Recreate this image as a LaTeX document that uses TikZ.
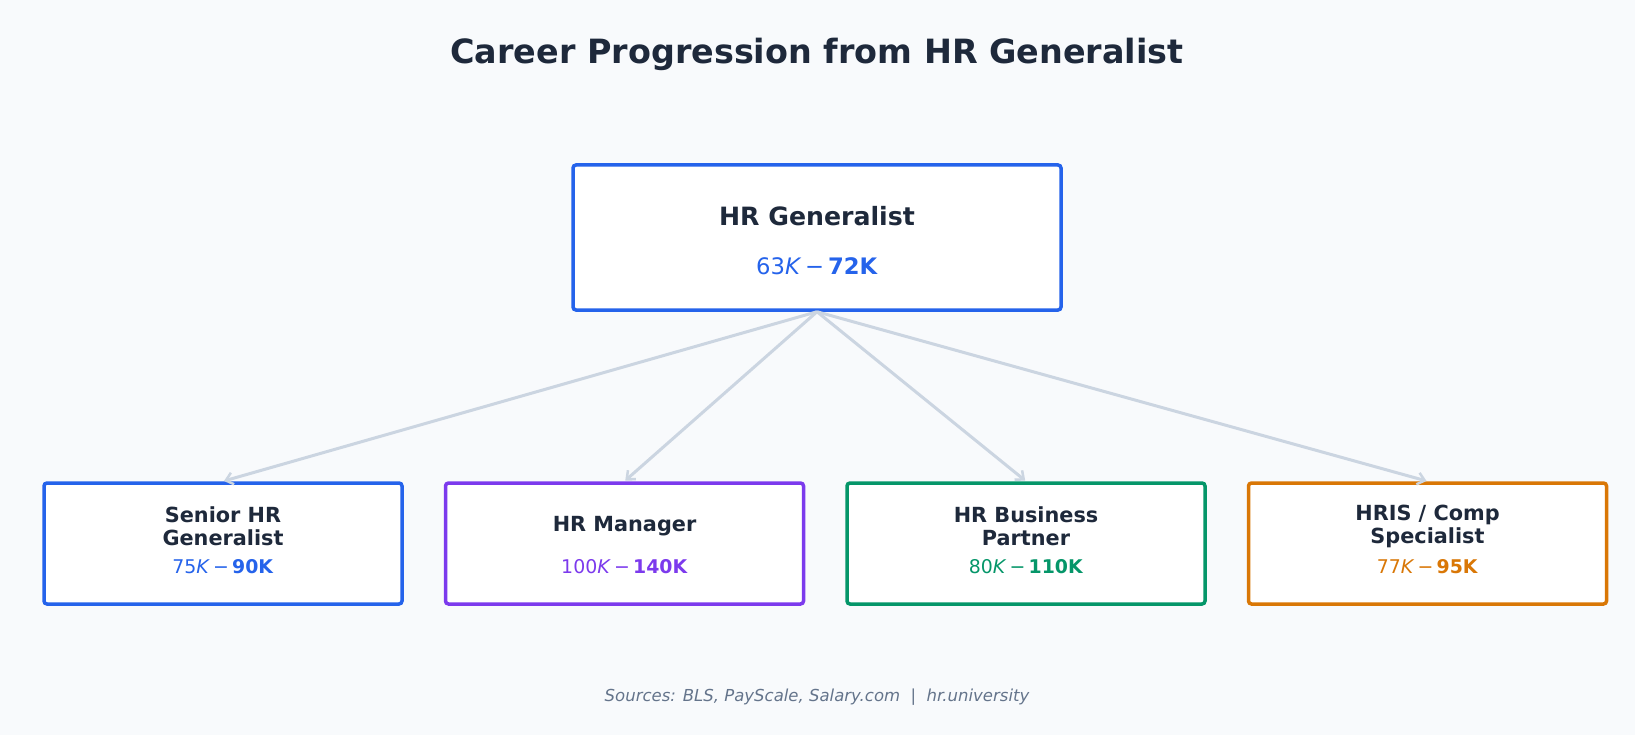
\documentclass[tikz,border=0pt]{standalone}
\usepackage{fontspec}
\setmainfont{DejaVu Sans}
\usetikzlibrary{arrows.meta}
\definecolor{bgc}{HTML}{F8FAFC}
\definecolor{ink}{HTML}{1E293B}
\definecolor{cblue}{HTML}{2563EB}
\definecolor{cpurple}{HTML}{7C3AED}
\definecolor{cgreen}{HTML}{059669}
\definecolor{corange}{HTML}{D97706}
\definecolor{cline}{HTML}{CBD5E1}
\definecolor{cfoot}{HTML}{64748B}
\newcommand\salary[2]{#1\textit{K}\,−\,\textbf{#2K}}
\tikzset{
  mainbox/.style={draw=cblue, fill=white, line width=3.5pt, rounded corners=3pt, minimum width=488pt, minimum height=145pt, inner sep=0pt},
  rolebox/.style={fill=white, line width=3.5pt, rounded corners=3pt, minimum width=358pt, minimum height=121pt, inner sep=0pt},
  rolename/.style={text=ink, font=\fontsize{20.8}{23}\selectfont\bfseries, align=center, inner sep=0pt},
  rolesal/.style={font=\fontsize{18.9}{22}\selectfont, inner sep=0pt},
  conn/.style={draw=cline, line width=3pt, -{Straight Barb[length=7pt,width=12pt,line width=2.5pt]}, shorten >=1pt}
}
\begin{document}
\begin{tikzpicture}[x=1pt,y=-1pt]
\fill[bgc] (0,0) rectangle (1635,735);
\useasboundingbox (0,0) rectangle (1635,735);
\node[text=ink, font=\fontsize{33.4}{38}\selectfont\bfseries, inner sep=0pt] (title) at (817,54) {Career Progression from HR Generalist};

\node[mainbox] (main) at (817,237.5) {};
\node[text=ink, font=\fontsize{25.2}{29}\selectfont\bfseries, inner sep=0pt] (mainname) at (817,216) {HR Generalist};
\node[text=cblue, font=\fontsize{22.7}{26}\selectfont, inner sep=0pt] (mainsal) at (817,266) {\salary{63}{72}};

\node[rolebox, draw=cblue] (b1) at (223,543.5) {};
\node[rolebox, draw=cpurple] (b2) at (624.5,543.5) {};
\node[rolebox, draw=cgreen] (b3) at (1026,543.5) {};
\node[rolebox, draw=corange] (b4) at (1427.5,543.5) {};

\node[rolename] (n1) at (223,526) {Senior HR\\Generalist};
\node[rolesal, text=cblue] (s1) at (223,567) {\salary{75}{90}};
\node[rolename] (n2) at (624.5,526) {HR Manager};
\node[rolesal, text=cpurple] (s2) at (624.5,567) {\salary{100}{140}};
\node[rolename] (n3) at (1026,526) {HR Business\\Partner};
\node[rolesal, text=cgreen] (s3) at (1026,567) {\salary{80}{110}};
\node[rolename] (n4) at (1427.5,526) {HRIS / Comp\\Specialist};
\node[rolesal, text=corange] (s4) at (1427.5,567) {\salary{77}{95}};

\draw[conn] (main.south) -- (b1.north);
\draw[conn] (main.south) -- (b2.north);
\draw[conn] (main.south) -- (b3.north);
\draw[conn] (main.south) -- (b4.north);

\node[text=cfoot, font=\fontsize{16.5}{20}\selectfont\itshape, inner sep=0pt] (foot) at (817,697) {Sources: BLS, PayScale, Salary.com \ | \ hr.university};
\end{tikzpicture}
\end{document}
